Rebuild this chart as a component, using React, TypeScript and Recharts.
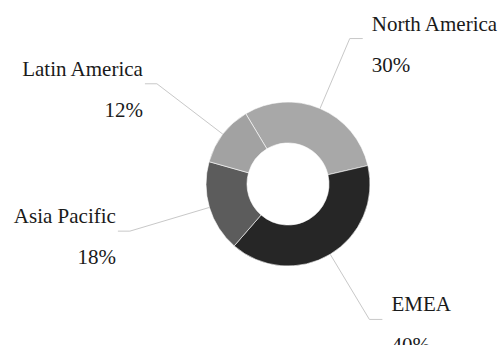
import { PieChart, Pie, Cell } from "recharts";

const regions = ["North America", "EMEA", "Asia Pacific", "Latin America"];
const shares = [30, 40, 18, 12];
const sliceColors = ["#a8a8a8", "#262626", "#5c5c5c", "#a2a2a2"];

const data = regions.map((name, i) => ({ name, value: shares[i] }));

const RADIAN = Math.PI / 180;
const FONT = "'Liberation Serif', 'Times New Roman', serif";

function renderLabel(props: any) {
  const { cx, cy, midAngle, outerRadius, name, value } = props;
  const cos = Math.cos(-midAngle * RADIAN);
  const sin = Math.sin(-midAngle * RADIAN);
  const right = cos >= 0;
  const sx = cx + outerRadius * cos;
  const sy = cy + outerRadius * sin;
  const bend = outerRadius + (right ? 76 : 83);
  const mx = cx + bend * cos;
  const my = cy + bend * sin;
  const ex = mx + (right ? 13 : -12);
  const tx = right ? ex + 9 : ex - 2;
  const anchor = right ? "start" : "end";

  return (
    <g>
      <polyline
        points={`${sx},${sy} ${mx},${my} ${ex},${my}`}
        fill="none"
        stroke="#c8c8c8"
        strokeWidth={1}
      />
      <text x={tx} y={my - 8} textAnchor={anchor} fill="#1a1a1a" fontSize={21} fontFamily={FONT}>
        {name}
      </text>
      <text x={tx} y={my + 33} textAnchor={anchor} fill="#1a1a1a" fontSize={21} fontFamily={FONT}>
        {`${value}%`}
      </text>
    </g>
  );
}

export default function App() {
  return (
    <div style={{ position: "absolute", left: 0, top: 0, width: 498, height: 345, background: "#fff" }}>
      <PieChart width={498} height={345} margin={{ top: 0, right: 0, bottom: 0, left: 0 }}>
        <Pie
          data={data}
          dataKey="value"
          nameKey="name"
          cx={288}
          cy={184}
          innerRadius={41}
          outerRadius={82}
          startAngle={121}
          endAngle={-239}
          stroke="#ffffff"
          strokeWidth={0.6}
          label={renderLabel}
          labelLine={false}
          isAnimationActive={false}
        >
          {data.map((d, i) => (
            <Cell key={d.name} fill={sliceColors[i]} />
          ))}
        </Pie>
      </PieChart>
    </div>
  );
}
